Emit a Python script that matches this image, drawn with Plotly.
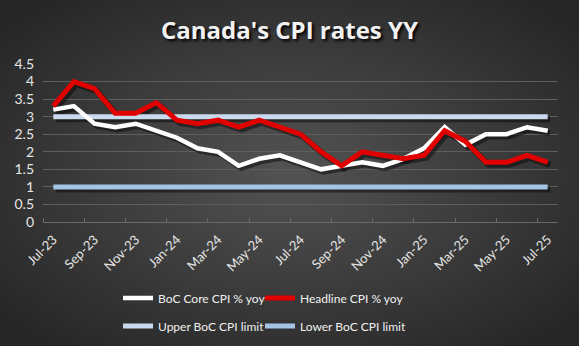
import plotly.graph_objects as go
import base64

months = ["Jul-23","Aug-23","Sep-23","Oct-23","Nov-23","Dec-23","Jan-24","Feb-24","Mar-24","Apr-24",
          "May-24","Jun-24","Jul-24","Aug-24","Sep-24","Oct-24","Nov-24","Dec-24","Jan-25","Feb-25",
          "Mar-25","Apr-25","May-25","Jun-25","Jul-25"]
core = [3.2,3.3,2.8,2.7,2.8,2.6,2.4,2.1,2.0,1.6,1.8,1.9,1.7,1.5,1.6,1.7,1.6,1.8,2.1,2.7,2.2,2.5,2.5,2.7,2.6]
headline = [3.3,4.0,3.8,3.1,3.1,3.4,2.9,2.8,2.9,2.7,2.9,2.7,2.5,2.0,1.6,2.0,1.9,1.8,1.9,2.6,2.3,1.7,1.7,1.9,1.7]
upper = [3.0]*25
lower = [1.0]*25
yticks = [0,0.5,1,1.5,2,2.5,3,3.5,4,4.5]
ytext = ["0","0.5","1","1.5","2","2.5","3","3.5","4","4.5"]

W, H = 579, 346
L, R, T, B = 43, 21, 64, 124
pw, ph = W - L - R, H - T - B

idx = list(range(len(months)))
FONT = "Lato"

XR = [-0.5, 24.5]
YR = [0, 4.5]
# shadow axes: same scale, shifted a few pixels right/down
sdx = 2.5 * (XR[1] - XR[0]) / pw
sdy = 2.5 * (YR[1] - YR[0]) / ph

series = [
    ("Upper BoC CPI limit", upper, "#c9daee", 5, "legend3"),
    ("Lower BoC CPI limit", lower, "#a4c4e4", 5, "legend4"),
    ("BoC Core CPI % yoy", core, "#ffffff", 4.5, "legend"),
    ("Headline CPI % yoy", headline, "#e00000", 5, "legend2"),
]

fig = go.Figure()
# invisible anchor trace on the base axes (which carry ticks and grid)
fig.add_trace(go.Scatter(x=idx, y=core, mode="lines", line=dict(color="rgba(0,0,0,0)", width=0),
                         showlegend=False, hoverinfo="skip"))
for name, vals, col, w, lg in series:
    fig.add_trace(go.Scatter(x=idx, y=vals, mode="lines", line=dict(color="rgba(0,0,0,0.45)", width=w + 1),
                             xaxis="x2", yaxis="y2", showlegend=False, hoverinfo="skip"))
for name, vals, col, w, lg in series:
    fig.add_trace(go.Scatter(x=idx, y=vals, mode="lines", name=name,
                             line=dict(color=col, width=w), legend=lg, xaxis="x3", yaxis="y3"))

svg = f'''<svg xmlns="http://www.w3.org/2000/svg" width="{W}" height="{H}">
<defs><radialGradient id="g" cx="50%" cy="50%" r="65%">
<stop offset="0%" stop-color="#535353"/><stop offset="100%" stop-color="#262626"/>
</radialGradient></defs><rect width="{W}" height="{H}" fill="url(#g)"/></svg>'''
src = "data:image/svg+xml;base64," + base64.b64encode(svg.encode()).decode()

fig.add_layout_image(dict(source=src, xref="paper", yref="paper",
                          x=-L/pw, y=1 + T/ph, sizex=W/pw, sizey=H/ph,
                          xanchor="left", yanchor="top", sizing="stretch", layer="below"))

def leg(xpx, ypx):
    return dict(orientation="h", xref="container", yref="container",
                x=xpx / W, y=1 - ypx / H, xanchor="left", yanchor="middle",
                bgcolor="rgba(0,0,0,0)", font=dict(family=FONT, size=12, color="#f0f0f0"))

minor_vals = [i - 0.5 for i in range(0, 26, 2)]
fig.update_layout(
    width=W, height=H,
    margin=dict(l=L, r=R, t=T, b=B, autoexpand=False),
    paper_bgcolor="#2e2e2e", plot_bgcolor="rgba(0,0,0,0)",
    font=dict(family=FONT, color="#e6e6e6"),
    title=dict(text="<b>Canada's CPI rates YY</b>", x=0.5, xanchor="center", y=1 - 31/H, yanchor="middle",
               font=dict(family="Open Sans", size=24, color="#f2f2f2", shadow="2px 2px 3px #000000")),
    xaxis=dict(range=XR, tickvals=idx[::2], ticktext=months[::2], tickangle=-45,
               showgrid=False, zeroline=False, showline=True, linecolor="#6a6a6a", linewidth=1,
               ticks="", tickfont=dict(size=13, color="#e6e6e6"), ticklabelstandoff=4, automargin=False,
               minor=dict(tickvals=minor_vals, ticks="inside", ticklen=4, tickcolor="#6a6a6a")),
    yaxis=dict(range=YR, tickvals=yticks, ticktext=ytext, showgrid=True, gridcolor="#5e5e5e",
               gridwidth=1, zeroline=False, showline=False, ticks="", ticklabelstandoff=8, automargin=False,
               tickfont=dict(size=14, color="#e6e6e6")),
    xaxis2=dict(range=[XR[0] - sdx, XR[1] - sdx], overlaying="x", visible=False, automargin=False),
    yaxis2=dict(range=[YR[0] + sdy, YR[1] + sdy], overlaying="y", visible=False, automargin=False),
    xaxis3=dict(range=XR, overlaying="x", visible=False, automargin=False),
    yaxis3=dict(range=YR, overlaying="y", visible=False, automargin=False),
    legend=leg(118, 298),
    legend2=leg(260, 298),
    legend3=leg(118, 326),
    legend4=leg(260, 326),
    showlegend=True,
)

fig.write_html("out.html")
